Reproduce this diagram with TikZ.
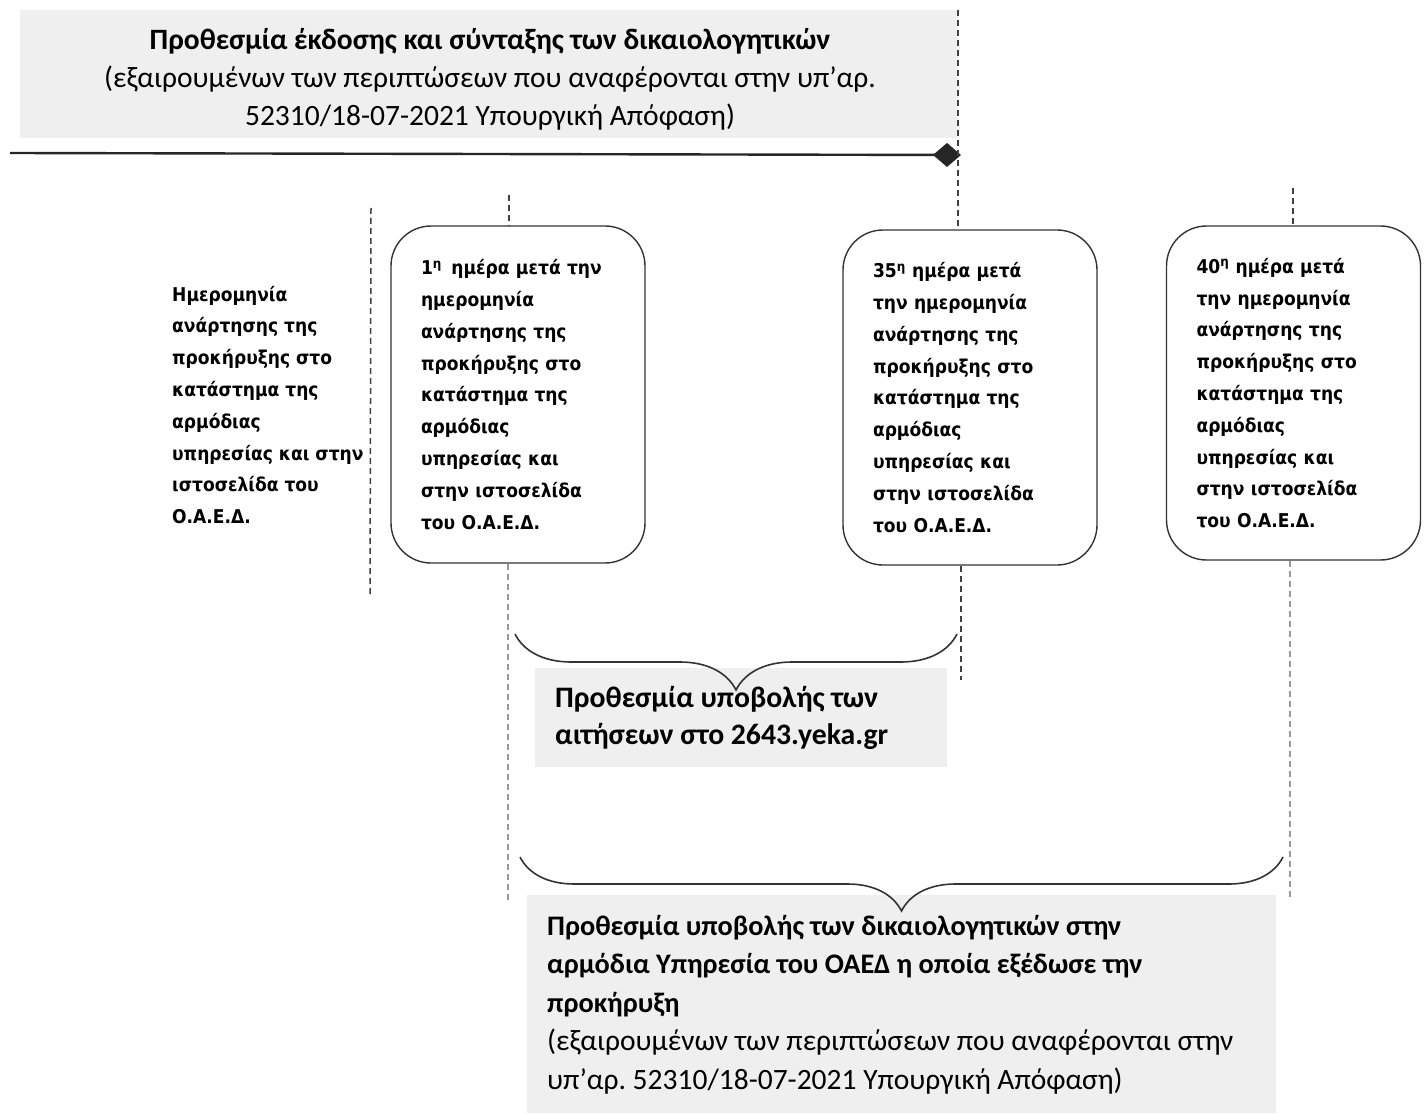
\documentclass[tikz,border=0pt]{standalone}
\usepackage{fontspec}
\setmainfont{Carlito}
\newfontfamily\boxfont{DejaVu Sans Condensed}
\usetikzlibrary{arrows.meta,decorations.pathreplacing}
\definecolor{shade}{HTML}{EFEFEF}
\frenchspacing
\begin{document}
\begin{tikzpicture}[x=1pt, y=-1pt,
    every node/.style={inner sep=0pt},
    daybox/.style={draw=black!80, line width=1.4pt, rounded corners=40pt,
        minimum width=254pt, align=left, text width=194pt, inner xsep=30pt,
        font=\boxfont\bfseries\fontsize{19}{31.8}\selectfont},
    graybox/.style={fill=shade, anchor=north west},
    guide/.style={dashed, dash pattern=on 6pt off 4pt, line width=1.5pt, black!75},
    guidegray/.style={guide, black!40},
    bracebelow/.style={decorate, decoration={brace, mirror, amplitude=#1}, line width=1.6pt, black!80}]
    \useasboundingbox (0,0) rectangle (1427,1115);

    % top deadline
    \node[graybox, minimum width=938pt, minimum height=128pt] (topbox) at (20,10) {};
    \node[align=center, font=\fontsize{29.5}{38}\selectfont] (toptext) at (490,79)
        {\textbf{Προθεσμία έκδοσης και σύνταξης των δικαιολογητικών}\\
         (εξαιρουμένων των περιπτώσεων που αναφέρονται στην υπ’αρ.\\
         52310/18-07-2021 Υπουργική Απόφαση)};
    \coordinate (lstart) at (10,153);
    \coordinate (lend) at (961,155);
    \draw[line width=2.4pt, black!85, -{Diamond[length=28pt,width=24pt]}] (lstart) -- (lend);

    % the day boxes
    \node[font=\boxfont\bfseries\fontsize{19}{31.8}\selectfont, align=left,
        anchor=west] (posted) at (172,405)
        {Ημερομηνία\\ ανάρτησης της\\ προκήρυξης στο\\ κατάστημα της\\ αρμόδιας\\ υπηρεσίας και στην\\ ιστοσελίδα του\\ Ο.Α.Ε.Δ.};
    \node[daybox, minimum height=337pt] (day1) at (518,394.5)
        {1\textsuperscript{η}\enspace ημέρα μετά την\\ ημερομηνία\\ ανάρτησης της\\ προκήρυξης στο\\ κατάστημα της\\ αρμόδιας\\ υπηρεσίας και\\ στην ιστοσελίδα\\ του Ο.Α.Ε.Δ.};
    \node[daybox, minimum height=335pt] (day35) at (970,397.5)
        {35\textsuperscript{η} ημέρα μετά\\ την ημερομηνία\\ ανάρτησης της\\ προκήρυξης στο\\ κατάστημα της\\ αρμόδιας\\ υπηρεσίας και\\ στην ιστοσελίδα\\ του Ο.Α.Ε.Δ.};
    \node[daybox, minimum height=334pt] (day40) at (1293.5,393)
        {40\textsuperscript{η} ημέρα μετά\\ την ημερομηνία\\ ανάρτησης της\\ προκήρυξης στο\\ κατάστημα της\\ αρμόδιας\\ υπηρεσίας και\\ στην ιστοσελίδα\\ του Ο.Α.Ε.Δ.};

    % guide lines
    \coordinate (g0a) at (371,208);
    \coordinate (g0b) at (370,595);
    \draw[guide] (g0a) -- (g0b);
    \coordinate (g1a) at (509,195);
    \coordinate (g1b) at (508,900);
    \draw[guide] (g1a) -- (day1.north -| g1a);
    \draw[guidegray] (day1.south -| g1b) -- (g1b);
    \coordinate (g35a) at (958,10);
    \coordinate (g35b) at (961,680);
    \draw[guide] (g35a) -- (day35.north -| g35a);
    \draw[guide] (day35.south -| g35b) -- (g35b);
    \coordinate (g40a) at (1293,188);
    \coordinate (g40b) at (1290,897);
    \draw[guide] (g40a) -- (day40.north -| g40a);
    \draw[guidegray] (day40.south -| g40b) -- (g40b);

    % applications deadline
    \node[graybox, minimum width=412pt, minimum height=99pt] (appbox) at (535,668) {};
    \node[anchor=north west, align=left, font=\bfseries\fontsize{29.7}{37}\selectfont] (apptext) at (555,686)
        {Προθεσμία υποβολής των\\ αιτήσεων στο 2643.yeka.gr};
    \coordinate (b1l) at (515,634);
    \coordinate (b1r) at (957,634);
    \draw[bracebelow=56pt] (b1l) -- (b1r);

    % documents deadline
    \node[graybox, minimum width=749pt, minimum height=218pt] (docbox) at (527,895) {};
    \node[anchor=north west, align=left, font=\fontsize{29.5}{38.5}\selectfont] (doctext) at (547,915)
        {\textbf{\fontsize{28.3}{38.5}\selectfont Προθεσμία υποβολής των δικαιολογητικών στην}\\
         \textbf{\fontsize{28.3}{38.5}\selectfont αρμόδια Υπηρεσία του ΟΑΕΔ η οποία εξέδωσε την}\\
         \textbf{\fontsize{28.3}{38.5}\selectfont προκήρυξη}\\
         (εξαιρουμένων των περιπτώσεων που αναφέρονται στην\\
         υπ’αρ. 52310/18-07-2021 Υπουργική Απόφαση)};
    \coordinate (b2l) at (520,857);
    \coordinate (b2r) at (1283,857);
    \draw[bracebelow=54pt] (b2l) -- (b2r);
\end{tikzpicture}
\end{document}
